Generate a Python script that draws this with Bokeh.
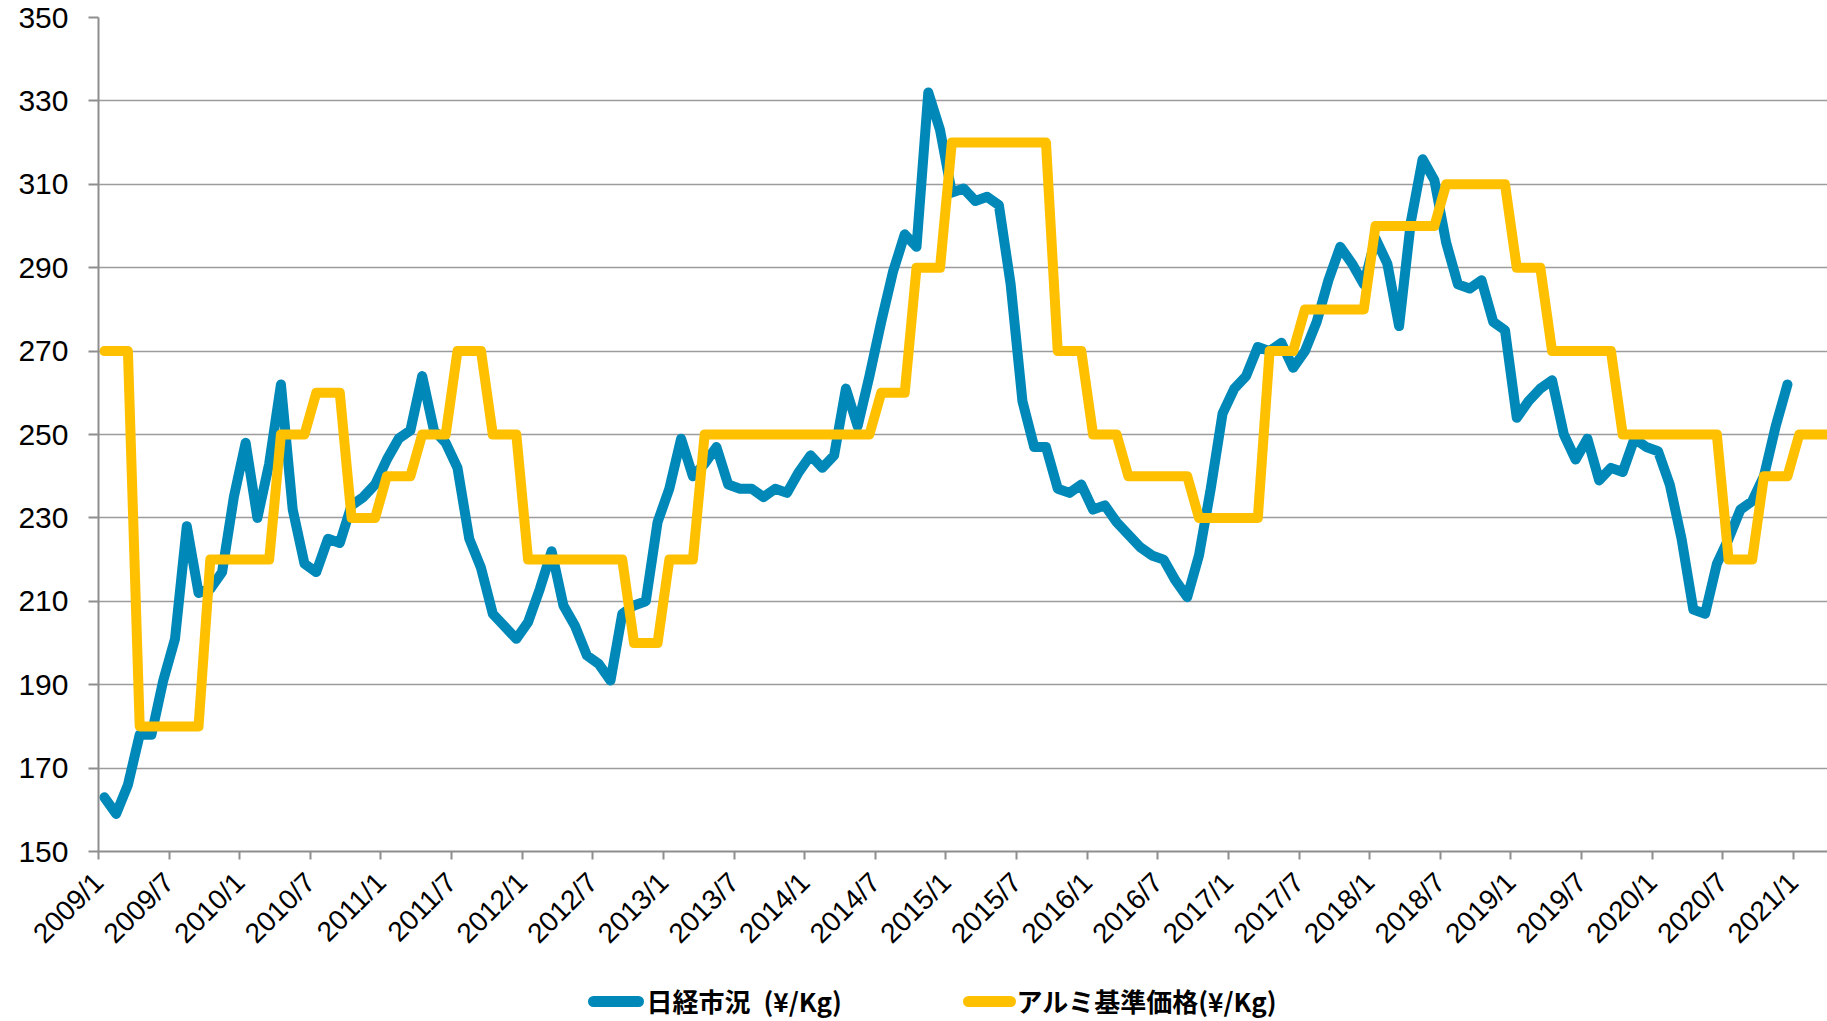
import math
from bokeh.plotting import figure
from bokeh.models import Range1d, FixedTicker
from bokeh.layouts import column
from bokeh.embed import file_html
from bokeh.resources import INLINE
from bokeh.core.properties import value

# 日経市況 (¥/Kg), monthly from 2009/1 to 2020/12
nikkei = [
    163, 159, 166, 178, 178, 191, 201, 228, 212, 213, 217, 235,   # 2009
    248, 230, 243, 262, 232, 219, 217, 225, 224, 233, 235, 238,   # 2010
    244, 249, 251, 264, 251, 248, 242, 225, 218, 207, 204, 201,   # 2011
    205, 213, 222, 209, 204, 197, 195, 191, 207, 209, 210, 229,   # 2012
    237, 249, 240, 243, 247, 238, 237, 237, 235, 237, 236, 241,   # 2013
    245, 242, 245, 261, 252, 264, 277, 289, 298, 295, 332, 323,   # 2014
    308, 309, 306, 307, 305, 286, 258, 247, 247, 237, 236, 238,   # 2015
    232, 233, 229, 226, 223, 221, 220, 215, 211, 221, 237, 255,   # 2016
    261, 264, 271, 270, 272, 266, 270, 277, 287, 295, 291, 286,   # 2017
    297, 291, 276, 301, 316, 311, 296, 286, 285, 287, 277, 275,   # 2018
    254, 258, 261, 263, 250, 244, 249, 239, 242, 241, 249, 247,   # 2019
    246, 238, 225, 208, 207, 219, 225, 232, 234, 240, 252, 262,   # 2020
]

# アルミ基準価格 (¥/Kg), monthly from 2009/1 to 2021/4
alumi = [
    270, 270, 270, 180, 180, 180, 180, 180, 180, 220, 220, 220,   # 2009
    220, 220, 220, 250, 250, 250, 260, 260, 260, 230, 230, 230,   # 2010
    240, 240, 240, 250, 250, 250, 270, 270, 270, 250, 250, 250,   # 2011
    220, 220, 220, 220, 220, 220, 220, 220, 220, 200, 200, 200,   # 2012
    220, 220, 220, 250, 250, 250, 250, 250, 250, 250, 250, 250,   # 2013
    250, 250, 250, 250, 250, 250, 260, 260, 260, 290, 290, 290,   # 2014
    320, 320, 320, 320, 320, 320, 320, 320, 320, 270, 270, 270,   # 2015
    250, 250, 250, 240, 240, 240, 240, 240, 240, 230, 230, 230,   # 2016
    230, 230, 230, 270, 270, 270, 280, 280, 280, 280, 280, 280,   # 2017
    300, 300, 300, 300, 300, 300, 310, 310, 310, 310, 310, 310,   # 2018
    290, 290, 290, 270, 270, 270, 270, 270, 270, 250, 250, 250,   # 2019
    250, 250, 250, 250, 250, 250, 220, 220, 220, 240, 240, 240,   # 2020
    250, 250, 250, 250,                                           # 2021
]

tick_labels = [
    "2009/1", "2009/7", "2010/1", "2010/7", "2011/1", "2011/7", "2012/1",
    "2012/7", "2013/1", "2013/7", "2014/1", "2014/7", "2015/1", "2015/7",
    "2016/1", "2016/7", "2017/1", "2017/7", "2018/1", "2018/7", "2019/1",
    "2019/7", "2020/1", "2020/7", "2021/1",
]
y_ticks = [150, 170, 190, 210, 230, 250, 270, 290, 310, 330, 350]
series_names = ["日経市況\u2002(¥/Kg)", "アルミ基準価格(¥/Kg)"]
series_colors = ["#0089B8", "#FFC000"]

W = 1827
H1 = 963
H2 = 58
LEFT = 98
GRAY_AXIS = "#8E8E8E"
GRAY_GRID = "#9C9C9C"

p = figure(width=W, height=H1,
           x_range=Range1d(0, 146.9), y_range=Range1d(150, 350),
           output_backend="svg", toolbar_location=None,
           min_border_left=LEFT, min_border_right=0,
           min_border_top=17, min_border_bottom=112)
p.outline_line_color = None
p.background_fill_color = "white"
p.border_fill_color = "white"
p.xgrid.visible = False
p.ygrid.grid_line_color = GRAY_GRID
p.ygrid.grid_line_width = 1.5

tick_pos = [6 * k for k in range(len(tick_labels))]
p.xaxis.ticker = FixedTicker(ticks=tick_pos)
p.xaxis.major_label_overrides = {t: lab for t, lab in zip(tick_pos, tick_labels)}
p.xaxis.major_label_orientation = math.pi / 4
p.xaxis.major_label_text_font = "Liberation Sans"
p.xaxis.major_label_text_font_size = "28px"
p.xaxis.major_label_text_color = "#000000"
p.xaxis.major_label_standoff = 18
p.xaxis.major_tick_out = 8
p.xaxis.major_tick_in = 0

p.yaxis.ticker = FixedTicker(ticks=y_ticks)
p.yaxis.major_label_text_font = "Liberation Sans"
p.yaxis.major_label_text_font_size = "30px"
p.yaxis.major_label_text_color = "#000000"
p.yaxis.major_label_standoff = 20
p.yaxis.major_tick_out = 10
p.yaxis.major_tick_in = 0

for ax in (p.xaxis, p.yaxis):
    ax.axis_line_color = GRAY_AXIS
    ax.axis_line_width = 2
    ax.major_tick_line_color = GRAY_AXIS
    ax.major_tick_line_width = 2
    ax.minor_tick_out = 0
    ax.minor_tick_in = 0

x_n = [i + 0.5 for i in range(len(nikkei))]
x_a = [i + 0.5 for i in range(len(alumi))]
p.line(x_n, nikkei, line_color=series_colors[0], line_width=10,
       line_join="round", line_cap="round")
p.line(x_a, alumi, line_color=series_colors[1], line_width=10,
       line_join="round", line_cap="round")

# legend strip (x in page pixels, same frame as the chart)
p2 = figure(width=W, height=H2, x_range=Range1d(LEFT, W), y_range=Range1d(H2, 0),
            output_backend="svg", toolbar_location=None,
            x_axis_type=None, y_axis_type=None,
            min_border_left=LEFT, min_border_right=0,
            min_border_top=0, min_border_bottom=0)
p2.outline_line_color = None
p2.grid.visible = False
ly = 37
legend_line_x = [(593, 638), (968, 1010)]
legend_text_x = [646, 1016]
for (x0, x1), tx, name, col in zip(legend_line_x, legend_text_x, series_names, series_colors):
    p2.line([x0, x1], [ly + 1, ly + 1], line_color=col, line_width=11, line_cap="round")
    p2.text(x=[tx], y=[ly], text=[name], text_font=value("Noto Sans CJK JP"),
            text_font_style="bold", text_font_size="26px",
            text_baseline="middle", text_align="left", text_color="#000000")

layout = column(p, p2, spacing=0)
open("out.html", "w").write(file_html(layout, INLINE))
